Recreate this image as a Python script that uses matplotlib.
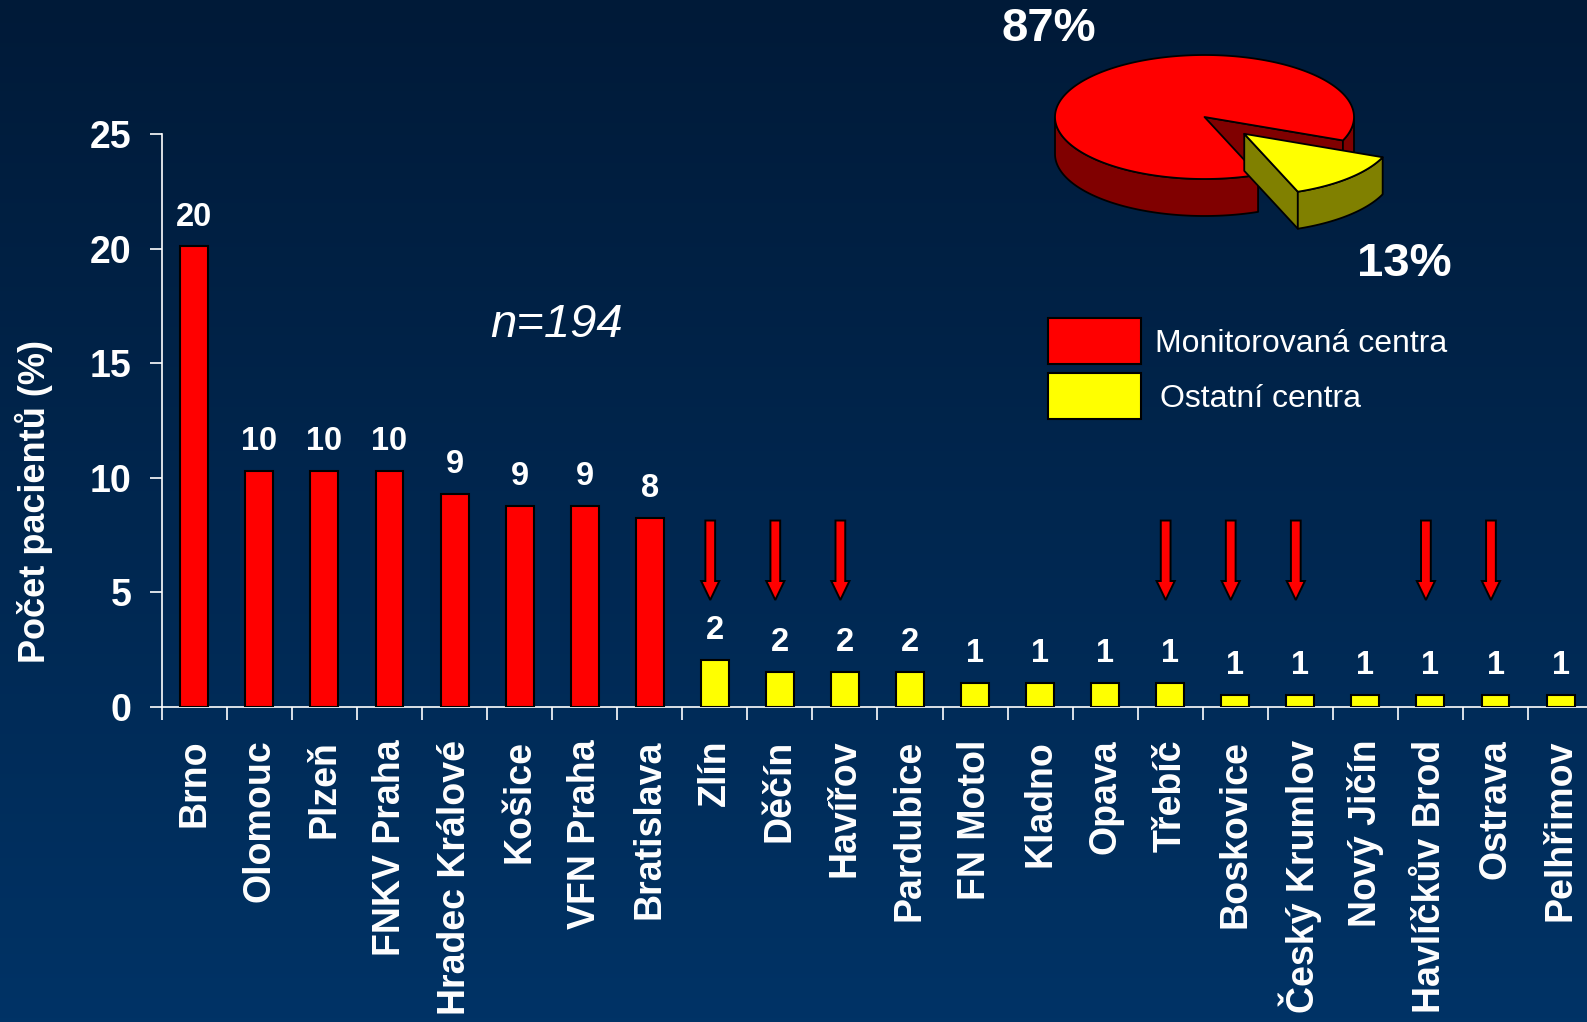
import matplotlib.pyplot as plt
import numpy as np
from matplotlib.patches import Polygon, Rectangle

plt.rcParams['font.family'] = ['Liberation Sans', 'DejaVu Sans']

centres = ['Brno', 'Olomouc', 'Plzeň', 'FNKV Praha', 'Hradec Králové', 'Košice',
           'VFN Praha', 'Bratislava', 'Zlín', 'Děčín', 'Havířov', 'Pardubice',
           'FN Motol', 'Kladno', 'Opava', 'Třebíč', 'Boskovice', 'Český Krumlov',
           'Nový Jičín', 'Havlíčkův Brod', 'Ostrava', 'Pelhřimov']
# patients per centre (n=194)
counts = [39, 20, 20, 20, 18, 17, 17, 16, 4, 3, 3, 3, 2, 2, 2, 2, 1, 1, 1, 1, 1, 1]
n_total = 194
labels = [20, 10, 10, 10, 9, 9, 9, 8, 2, 2, 2, 2, 1, 1, 1, 1, 1, 1, 1, 1, 1, 1]
monitored = [True] * 8 + [False] * 14
arrow_idx = [8, 9, 10, 15, 16, 17, 19, 20]
shares = [87, 13]   # monitorovana / ostatni

pct = np.array(counts) / n_total * 100

W, H = 1587, 1022
fig = plt.figure(figsize=(W / 100, H / 100), dpi=100)

# background gradient
bg = fig.add_axes([0, 0, 1, 1])
grad = np.linspace(0, 1, 256).reshape(-1, 1)
top_c = np.array([0x00, 0x1a, 0x38]) / 255
bot_c = np.array([0x00, 0x33, 0x66]) / 255
img = top_c[None, None, :] * (1 - grad[:, :, None]) + bot_c[None, None, :] * grad[:, :, None]
bg.imshow(img, aspect='auto', extent=[0, 1, 0, 1])
bg.axis('off')

ax = fig.add_axes([161.8 / W, 1 - 707 / H, 1431.3 / W, (707 - 134.3) / H])
ax.patch.set_alpha(0)
x = np.arange(len(centres))
cols = ['#ff0000' if m else '#ffff00' for m in monitored]
ax.bar(x, pct, width=0.43, color=cols, edgecolor='black', linewidth=1.5, zorder=3)
ax.set_xlim(-0.5, len(centres) - 0.5)
ax.set_ylim(0, 25)
ax.set_yticks(range(0, 26, 5))
ax.set_xticks(x)
ax.set_xticklabels(centres, rotation=90)
ax.set_xticks(np.arange(-0.5, len(centres), 1), minor=True)
ax.tick_params(axis='x', which='major', length=0, pad=23.5, labelsize=27, labelcolor='white')
ax.tick_params(axis='x', which='minor', length=9.4, width=1.2, color='white')
ax.tick_params(axis='y', length=9, width=1.2, color='white', pad=13, labelsize=27, labelcolor='white')
for t in ax.get_xticklabels() + ax.get_yticklabels():
    t.set_fontweight('bold')
for s in ['top', 'right']:
    ax.spines[s].set_visible(False)
for s in ['left', 'bottom']:
    ax.spines[s].set_color('white')
    ax.spines[s].set_linewidth(1.2)

for i in x:
    ax.annotate(str(labels[i]), (i, pct[i]), xytext=(0, 15.1), textcoords='offset points',
                ha='center', va='baseline', fontsize=23.5, fontweight='bold', color='white')

for i in arrow_idx:
    ax.arrow(i - 0.07, 8.14, 0, 4.67 - 8.14, width=0.15, head_width=0.28, head_length=0.83,
             length_includes_head=True, fc='#ff0000', ec='black', lw=1.4, zorder=4)

fig.text(34 / W, 1 - 501.5 / H, 'Počet pacientů (%)', rotation=90, ha='center', va='center',
         fontsize=26, fontweight='bold', color='white')

# overlay in pixel coords for pie, legend, notes
ov = fig.add_axes([0, 0, 1, 1])
ov.set_xlim(0, W)
ov.set_ylim(H, 0)
ov.axis('off')

ov.text(490, 325, 'n=194', ha='left', va='center', fontsize=34, style='italic', color='white')

# 3D pie
cx, cy, rx, ry, depth = 1204.5, 117, 149.5, 62, 37
tops = ['#ff0000', '#ffff00']
sides = ['#800000', '#808000']
explode = [0, 0.38]


def rim(c, th):
    th = np.radians(th)
    return np.column_stack([c[0] + rx * np.cos(th), c[1] - ry * np.sin(th)])


a0 = -22.2
spans = [shares[0] / sum(shares) * 360, shares[1] / sum(shares) * 360]
bounds = [(a0, a0 + spans[0]), (a0 + spans[0], a0 + spans[0] + spans[1])]
for k in range(2):
    s0, s1 = bounds[k]
    mid = np.radians((s0 + s1) / 2)
    c = (cx + explode[k] * rx * np.cos(mid), cy - explode[k] * ry * np.sin(mid))
    kw = dict(ec='black', lw=1.3, joinstyle='round')
    # cut faces
    if np.sin(np.radians(s0 - 90)) < 0:
        p = rim(c, s0)[0]
        ov.add_patch(Polygon([c, p, (p[0], p[1] + depth), (c[0], c[1] + depth)], fc=sides[k], **kw))
    if np.sin(np.radians(s1 + 90)) < 0:
        p = rim(c, s1)[0]
        ov.add_patch(Polygon([c, p, (p[0], p[1] + depth), (c[0], c[1] + depth)], fc=sides[k], **kw))
    # outer walls facing viewer
    for lo, hi in [(-180, 0), (180, 360), (540, 720)]:
        t0, t1 = max(s0, lo), min(s1, hi)
        if t1 > t0:
            arc = rim(c, np.linspace(t0, t1, 80))
            low = arc[::-1].copy()
            low[:, 1] += depth
            ov.add_patch(Polygon(np.vstack([arc, low]), fc=sides[k], **kw))
    arc = rim(c, np.linspace(s0, s1, 200))
    ov.add_patch(Polygon(np.vstack([[c], arc]), fc=tops[k], **kw))

ov.text(1048.5, 29, '87%', ha='center', va='center', fontsize=34, fontweight='bold', color='white')
ov.text(1404.5, 264, '13%', ha='center', va='center', fontsize=34, fontweight='bold', color='white')

# legend
ov.add_patch(Rectangle((1048, 318), 93, 46, fc='#ff0000', ec='black', lw=1.5))
ov.add_patch(Rectangle((1048, 373), 93, 46, fc='#ffff00', ec='black', lw=1.5))
ov.text(1155, 344, 'Monitorovaná centra', ha='left', va='center', fontsize=23, color='white')
ov.text(1160, 399, 'Ostatní centra', ha='left', va='center', fontsize=23, color='white')

fig.savefig('out.png', dpi=100)
